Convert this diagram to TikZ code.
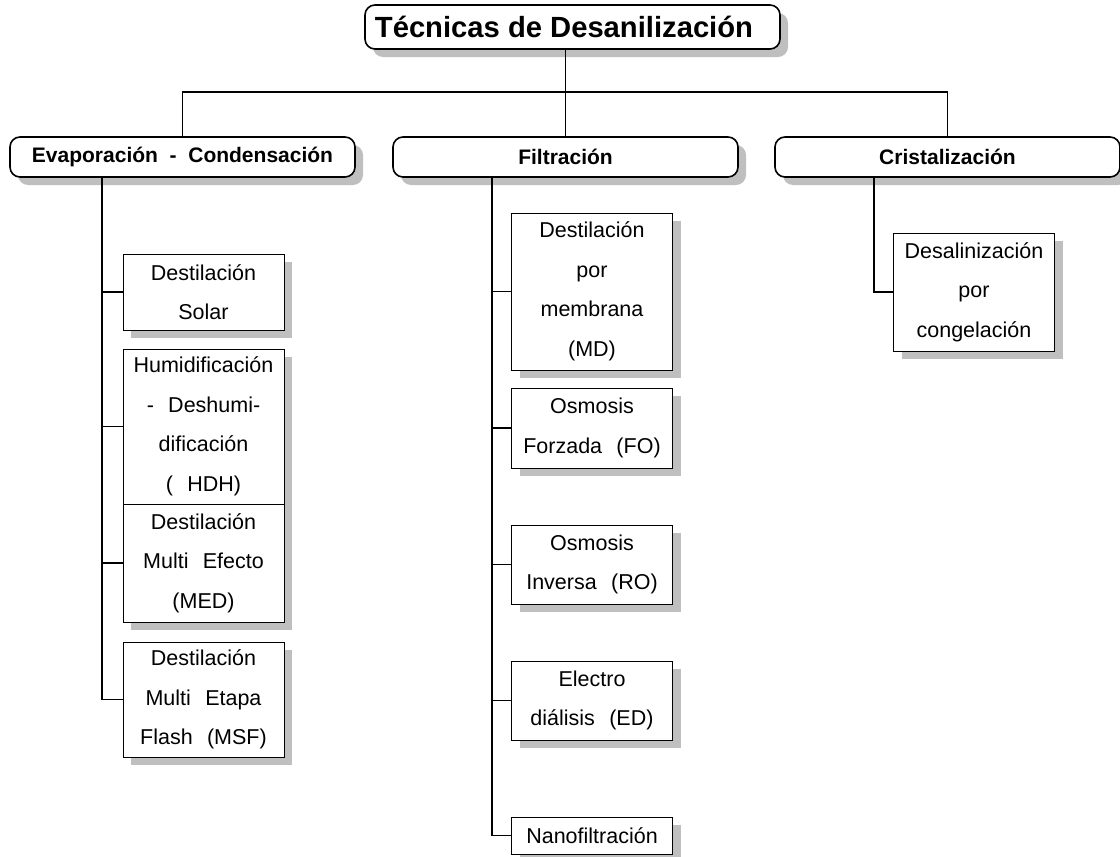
\documentclass[tikz,border=0pt]{standalone}
\usepackage{fontspec}
\setmainfont{Liberation Sans}
\usetikzlibrary{positioning, shadows, calc}

\begin{document}
\begin{tikzpicture}[
  x=0.5pt, y=-0.5pt,
  titlebox/.style={rectangle, draw, line width=0.8pt, fill=white, rounded corners=5pt,
    minimum width=207.5pt, minimum height=22pt, inner sep=0pt,
    font=\fontsize{14.6}{17}\selectfont\bfseries,
    general shadow={fill=gray!50, shadow xshift=4pt, shadow yshift=-4pt}},
  group/.style={rectangle, draw, line width=0.8pt, fill=white, rounded corners=5pt,
    minimum width=172.5pt, minimum height=20pt, inner sep=0pt,
    font=\fontsize{10.5}{13}\selectfont\bfseries,
    general shadow={fill=gray!50, shadow xshift=4pt, shadow yshift=-4pt}},
  leaf/.style={rectangle, draw, line width=0.5pt, fill=white, text width=75pt,
    align=center, inner xsep=2.75pt, inner ysep=0pt,
    font=\fontsize{10.75}{19.75}\selectfont,
    general shadow={fill=gray!50, shadow xshift=4pt, shadow yshift=-4pt}},
  link/.style={draw, line width=0.75pt},
  node distance=9pt,
]
  \useasboundingbox (0,0) rectangle (1120,857);

  % top level
  \node[titlebox] (tit) at (572.5,27) {\hspace*{-8.5pt}Técnicas de Desanilización};

  % groups
  \node[group] (evap) at (182.5,157) {Evaporación\ \ -\ \ Condensación};
  \node[group] (filt) at (565.5,157) {Filtración};
  \node[group] (crist) at (947.5,157) {Cristalización};

  % evaporacion - condensacion
  \node[leaf, minimum height=38pt] (solar) at (203.5,292) {Destilación\\Solar};
  \node[leaf, minimum height=77.5pt, below=of solar] (hdh) {Humidificación\\-\ \ Deshumi-\\dificación\\(\ \ HDH)};
  \node[leaf, minimum height=59pt, below=-0.5pt of hdh] (med) {Destilación\\Multi\ \ Efecto\\(MED)};
  \node[leaf, minimum height=57.5pt, below=9.5pt of med] (msf) {Destilación\\Multi\ \ Etapa\\Flash\ \ (MSF)};

  % filtracion
  \node[leaf, minimum height=78.5pt] (md) at (592,291.5) {Destilación\\por\\membrana\\(MD)};
  \node[leaf, minimum height=40pt, below=8.5pt of md] (fo) {Osmosis\\Forzada\ \ (FO)};
  \node[leaf, minimum height=39.5pt, below=28pt of fo] (ro) {Osmosis\\Inversa\ \ (RO)};
  \node[leaf, minimum height=39.5pt, below=28pt of ro] (ed) {Electro\\diálisis\ \ (ED)};
  \node[leaf, minimum height=18.5pt, below=38pt of ed] (nano) {Nanofiltración};

  % cristalizacion
  \node[leaf, minimum height=59pt] (desal) at (974,292) {Desalinización\\por\\congelación};

  % connectors
  \coordinate (bus) at (565.5,92);
  \draw[link] (tit.south -| filt.north) -- (filt.north);
  \draw[link] (evap.north) |- (bus) -| (crist.north);

  \coordinate (evT) at ($(evap.south west)+(93,0)$);
  \coordinate (fiT) at ($(filt.south west)+(100,0)$);
  \coordinate (crT) at ($(crist.south west)+(100,0)$);
  \foreach \leaf in {solar,hdh,med,msf}
    \draw[link] (evT) |- (\leaf.west);
  \foreach \leaf in {md,fo,ro,ed,nano}
    \draw[link] (fiT) |- (\leaf.west);
  \draw[link] (crT) |- (desal.west);
\end{tikzpicture}
\end{document}
